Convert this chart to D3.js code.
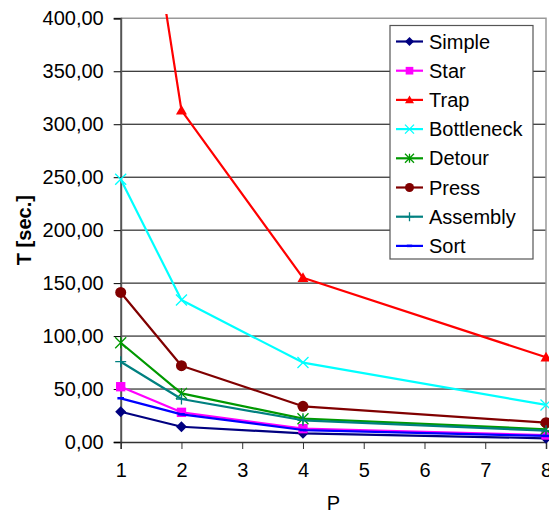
<!DOCTYPE html>
<html>
<head>
<meta charset="utf-8">
<script src="https://cdn.jsdelivr.net/npm/d3@7/dist/d3.min.js"></script>
<style>
  html, body { margin: 0; padding: 0; background: #fff; }
  svg { display: block; font-family: "Liberation Sans", Arial, sans-serif; }
</style>
</head>
<body>
<svg id="chart" width="549" height="513"></svg>
<script>
// Processor counts and measured run times (seconds) per benchmark
const procs = [1, 2, 4, 8];
const xTicks = [1, 2, 3, 4, 5, 6, 7, 8];
const yTicks = [0, 50, 100, 150, 200, 250, 300, 350, 400];

const simple     = [28.6, 14.4, 8.2, 3.5];
const star       = [52.2, 28.0, 12.6, 6.6];
const trap       = [680, 313, 155, 80];
const bottleneck = [248, 134, 75, 35];
const detour     = [93.7, 45.9, 22.0, 12.0];
const press      = [141.2, 72.0, 33.7, 18.2];
const assembly   = [75.8, 40.6, 20.5, 10.7];
const sort       = [41.2, 26.1, 11.3, 5.7];

const seriesNames = ["Simple", "Star", "Trap", "Bottleneck", "Detour", "Press", "Assembly", "Sort"];
const seriesValues = [simple, star, trap, bottleneck, detour, press, assembly, sort];
const seriesColors = ["#000080", "#ff00ff", "#ff0000", "#00ffff", "#009900", "#800000", "#008080", "#0000ff"];
const seriesMarkers = ["diamond", "square", "triangle", "cross", "star", "circle", "plus", "dash"];

const svg = d3.select("#chart");
const plotL = 120.7, plotR = 546, plotT = 18.3, plotB = 442;

const x = d3.scaleLinear().domain([1, 8]).range([plotL, plotR]);
const y = d3.scaleLinear().domain([0, 400]).range([plotB, plotT]);

// horizontal gridlines
svg.append("g").selectAll("line").data(yTicks.filter(t => t > 0 && t < 400)).join("line")
  .attr("x1", plotL).attr("x2", plotR)
  .attr("y1", d => y(d)).attr("y2", d => y(d))
  .attr("stroke", "#000").attr("stroke-width", 1);

// plot frame (top and right edges)
svg.append("path")
  .attr("d", `M${plotL},${y(400)}H${plotR}V${plotB}`)
  .attr("fill", "none").attr("stroke", "#999").attr("stroke-width", 1.5);

// y axis
const yAxis = d3.axisLeft(y).tickValues(yTicks).tickSize(7).tickPadding(10)
  .tickFormat(d => d3.format(".2f")(d).replace(".", ","));
const gy = svg.append("g").attr("transform", `translate(${plotL},0)`).call(yAxis);
gy.select(".domain").attr("stroke", "#555").attr("stroke-width", 2);
gy.selectAll(".tick line").attr("stroke", "#000");
gy.selectAll("text").attr("font-size", 20).attr("fill", "#000")
  .attr("font-family", "Liberation Sans, Arial, sans-serif");

// x axis
const xAxis = d3.axisBottom(x).tickValues(xTicks).tickSize(7).tickPadding(14)
  .tickFormat(d3.format("d"));
const gx = svg.append("g").attr("transform", `translate(0,${plotB})`).call(xAxis);
gx.select(".domain").attr("stroke", "#333").attr("stroke-width", 1.5);
gx.selectAll(".tick line").attr("stroke", "#333");
gx.selectAll("text").attr("font-size", 20).attr("fill", "#000")
  .attr("font-family", "Liberation Sans, Arial, sans-serif");

// axis titles
svg.append("text").attr("x", (plotL + plotR) / 2).attr("y", 510)
  .attr("text-anchor", "middle").attr("font-size", 20).text("P");
svg.append("text")
  .attr("transform", `translate(31,${(plotT + plotB) / 2}) rotate(-90)`)
  .attr("text-anchor", "middle").attr("font-size", 20).attr("font-weight", "bold")
  .text("T [sec.]");

// clip for series that exceed the axis maximum
svg.append("clipPath").attr("id", "plotClip").append("rect")
  .attr("x", plotL - 10).attr("y", 14).attr("width", plotR - plotL + 20).attr("height", plotB - 4);

function marker(sel, type, color, s) {
  switch (type) {
    case "diamond":
      sel.append("path").attr("d", `M0,${-s}L${s},0L0,${s}L${-s},0Z`).attr("fill", color); break;
    case "square":
      sel.append("rect").attr("x", -s * 0.85).attr("y", -s * 0.85).attr("width", s * 1.7).attr("height", s * 1.7).attr("fill", color); break;
    case "triangle":
      sel.append("path").attr("d", `M0,${-s}L${s},${s * 0.75}L${-s},${s * 0.75}Z`).attr("fill", color); break;
    case "cross":
      sel.append("path").attr("d", `M${-s},${-s}L${s},${s}M${-s},${s}L${s},${-s}`).attr("stroke", color).attr("stroke-width", 1.3); break;
    case "star":
      sel.append("path").attr("d", `M${-s},${-s}L${s},${s}M${-s},${s}L${s},${-s}M0,${-s}V${s}`).attr("stroke", color).attr("stroke-width", 1.3); break;
    case "circle":
      sel.append("circle").attr("r", s).attr("fill", color); break;
    case "plus":
      sel.append("path").attr("d", `M${-s},0H${s}M0,${-s}V${s}`).attr("stroke", color).attr("stroke-width", 1.3); break;
    case "dash":
      sel.append("path").attr("d", `M${-s * 0.6},0H${s * 0.6}`).attr("stroke", color).attr("stroke-width", 2.5); break;
  }
}

const line = d3.line().x((d, i) => x(procs[i])).y(d => y(d));
const plot = svg.append("g").attr("clip-path", "url(#plotClip)");

seriesValues.forEach((vals, k) => {
  const g = plot.append("g");
  g.append("path").datum(vals).attr("d", line)
    .attr("fill", "none").attr("stroke", seriesColors[k]).attr("stroke-width", 2.2)
    .attr("stroke-linejoin", "round");
  vals.forEach((v, i) => {
    const m = g.append("g").attr("transform", `translate(${x(procs[i])},${y(v)})`);
    marker(m, seriesMarkers[k], seriesColors[k], 5.5);
  });
});

// legend
const lg = svg.append("g");
lg.append("rect").attr("x", 390).attr("y", 25.5).attr("width", 143).attr("height", 233.5)
  .attr("fill", "#fff").attr("stroke", "#555").attr("stroke-width", 1.2);
seriesNames.forEach((name, k) => {
  const cy = 41.5 + k * 29.2;
  const row = lg.append("g");
  row.append("line").attr("x1", 396).attr("x2", 423).attr("y1", cy).attr("y2", cy)
    .attr("stroke", seriesColors[k]).attr("stroke-width", 2.2);
  const m = row.append("g").attr("transform", `translate(409.5,${cy})`);
  marker(m, seriesMarkers[k], seriesColors[k], 4.5);
  row.append("text").attr("x", 429).attr("y", cy + 7).attr("font-size", 20).text(name);
});
</script>
</body>
</html>
